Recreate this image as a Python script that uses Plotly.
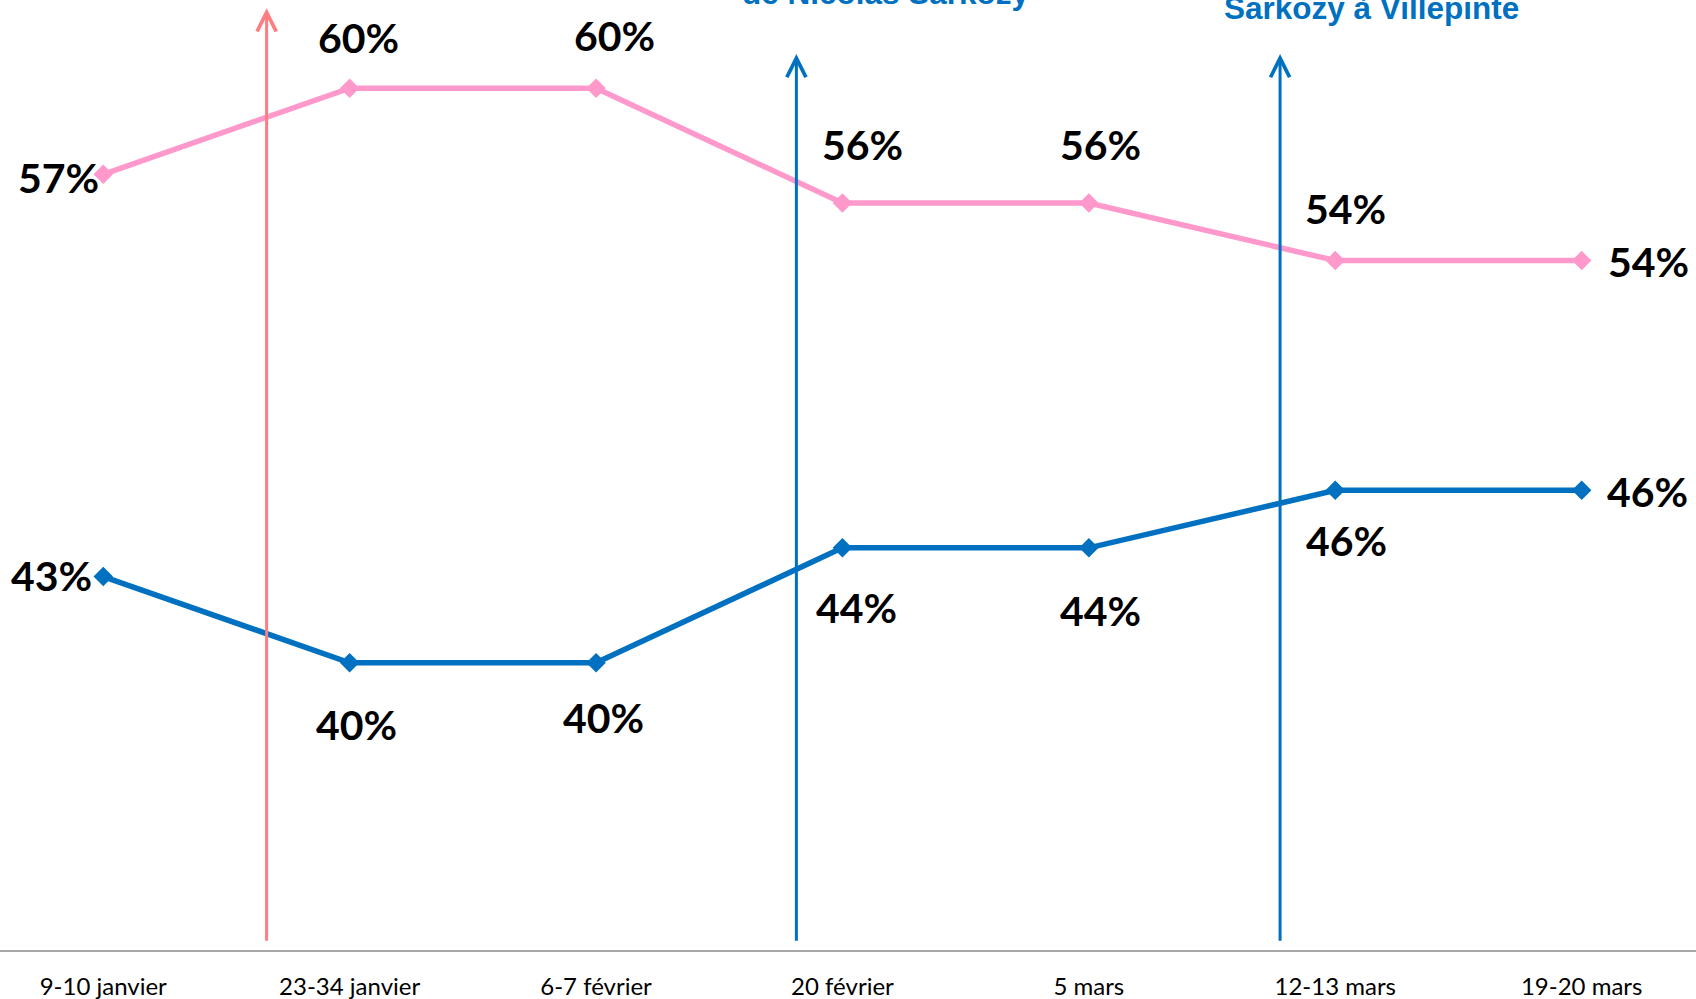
import plotly.graph_objects as go

# Colors
color_pink = '#FF99CC'
color_blue = '#0070C0'
color_salmon = '#FF7C80'
color_axis = '#A6A6A6'

# Data
dates = ['9-10 janvier', '23-34 janvier', '6-7 février', '20 février', '5 mars', '12-13 mars', '19-20 mars']
pink_values = [57, 60, 60, 56, 56, 54, 54]
blue_values = [43, 40, 40, 44, 44, 46, 46]

# Events (position between survey dates, visible text, colour)
event_positions = [0.663, 2.813, 4.776]
event_texts = ['', 'de Nicolas Sarkozy', 'Sarkozy à Villepinte']
event_colors = [color_salmon, color_blue, color_blue]
event_tops = [62.78, 61.19, 61.19]

# Label offsets in pixels (x, y)
pink_offsets = [(-45, -3), (9, 51), (18, 53), (20, 59), (12, 59), (10, 52), (67, -1)]
blue_offsets = [(-52, 1), (7, -62), (7, -55), (14, -60), (12, -63), (11, -50), (66, -1)]

label_font = dict(family='Lato, sans-serif', size=41, color='black')

x_idx = list(range(len(dates)))

fig = go.Figure()

fig.add_trace(go.Scatter(
    x=x_idx, y=pink_values, mode='lines+markers',
    line=dict(color=color_pink, width=5.5),
    marker=dict(symbol='diamond', size=15, color=color_pink),
    hoverinfo='skip'
))
fig.add_trace(go.Scatter(
    x=x_idx, y=blue_values, mode='lines+markers',
    line=dict(color=color_blue, width=5.5),
    marker=dict(symbol='diamond', size=15, color=color_blue),
    hoverinfo='skip'
))

annotations = []

# Value labels
for values, offsets in [(pink_values, pink_offsets), (blue_values, blue_offsets)]:
    for i, v in enumerate(values):
        annotations.append(dict(
            x=i, y=v, xref='x', yref='y', text=f'<b>{v}%</b>',
            showarrow=False, xshift=offsets[i][0], yshift=offsets[i][1],
            xanchor='center', yanchor='middle', font=label_font
        ))

# Event arrows
for pos, top, col in zip(event_positions, event_tops, event_colors):
    annotations.append(dict(
        x=pos, y=top, ax=pos, ay=30.27, xref='x', yref='y', axref='x', ayref='y',
        text='', showarrow=True, arrowhead=5, arrowsize=1.25, arrowwidth=3,
        arrowcolor=col, standoff=0
    ))

# Event texts (cut at top of the picture, as in the source)
text_shifts = [0, -13, -28]
text_x = [0.663, 3.178, 5.149]
for tx, txt, col, ys in zip(text_x, event_texts, event_colors, text_shifts):
    if not txt:
        continue
    annotations.append(dict(
        x=tx, y=1, xref='x', yref='paper', text=f'<b>{txt}</b>',
        showarrow=False, xanchor='center', yanchor='bottom', yshift=ys,
        font=dict(family='Liberation Sans, Arial, sans-serif', size=31.5, color=col)
    ))

fig.update_layout(
    width=1696, height=999,
    margin=dict(l=0, r=0, t=0, b=49, autoexpand=False),
    plot_bgcolor='white', paper_bgcolor='white',
    showlegend=False,
    annotations=annotations,
    xaxis=dict(
        range=[-0.419, 6.464], tickvals=x_idx, ticktext=dates,
        showgrid=False, zeroline=False, showline=True, linecolor=color_axis, linewidth=2,
        ticks='', ticklabelstandoff=14, automargin=False,
        tickfont=dict(family='Lato, sans-serif', size=24, color='black')
    ),
    yaxis=dict(range=[30, 63.07], visible=False, showgrid=False, zeroline=False, automargin=False),
)

fig.write_html('out.html', config={'displayModeBar': False},
               post_script="document.body.style.margin='0';")
